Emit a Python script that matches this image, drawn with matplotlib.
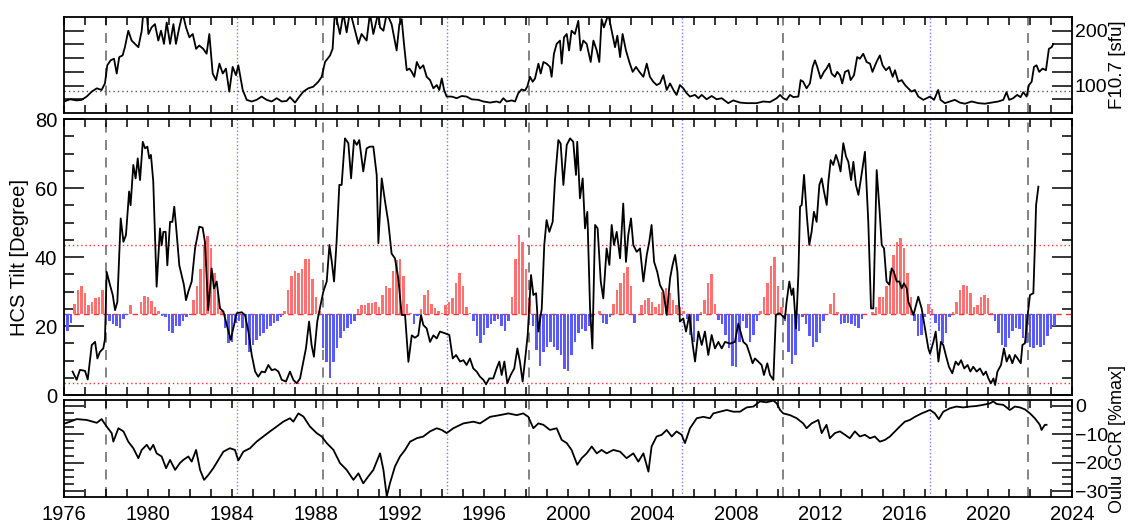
import numpy as np
import matplotlib
matplotlib.use("Agg")
import matplotlib.pyplot as plt
from matplotlib.ticker import MultipleLocator, FixedLocator, FuncFormatter

plt.rcParams['font.family'] = ['Liberation Sans', 'DejaVu Sans']
plt.rcParams['font.size'] = 14.5

# ---------------- data ----------------
f107_years = [1976.0, 1976.29, 1976.6, 1976.84, 1977.08, 1977.32, 1977.56, 1977.79, 1977.95, 1978.06,
              1978.22, 1978.38, 1978.51, 1978.63, 1978.79, 1978.9, 1979.06, 1979.22, 1979.38, 1979.54,
              1979.7, 1979.78, 1979.94, 1980.02, 1980.17, 1980.33, 1980.49, 1980.62, 1980.76, 1980.89,
              1981.05, 1981.21, 1981.33, 1981.49, 1981.65, 1981.81, 1981.97, 1982.13, 1982.29, 1982.44,
              1982.63, 1982.79, 1982.92, 1983.08, 1983.24, 1983.4, 1983.56, 1983.71, 1983.87, 1984.03,
              1984.19, 1984.3, 1984.51, 1984.7, 1984.94, 1985.17, 1985.41, 1985.65, 1985.89, 1986.13,
              1986.37, 1986.6, 1986.76, 1987.0, 1987.21, 1987.4, 1987.63, 1987.87, 1988.11, 1988.27,
              1988.43, 1988.67, 1988.79, 1988.9, 1989.14, 1989.3, 1989.46, 1989.62, 1989.86, 1990.02,
              1990.17, 1990.41, 1990.57, 1990.73, 1990.97, 1991.05, 1991.21, 1991.37, 1991.6, 1991.84,
              1991.97, 1992.08, 1992.19, 1992.32, 1992.45, 1992.56, 1992.68, 1992.8, 1992.95, 1993.11,
              1993.27, 1993.43, 1993.59, 1993.75, 1993.87, 1993.99, 1994.1, 1994.22, 1994.46, 1994.7,
              1994.94, 1995.17, 1995.41, 1995.73, 1995.97, 1996.29, 1996.6, 1996.76, 1996.92, 1997.08,
              1997.32, 1997.48, 1997.63, 1997.79, 1997.95, 1998.06, 1998.19, 1998.32, 1998.43, 1998.59,
              1998.7, 1998.83, 1998.98, 1999.14, 1999.22, 1999.33, 1999.46, 1999.62, 1999.7, 1999.81,
              1999.94, 2000.05, 2000.17, 2000.33, 2000.49, 2000.6, 2000.73, 2000.89, 2001.08, 2001.21,
              2001.37, 2001.49, 2001.6, 2001.71, 2001.92, 2002.08, 2002.24, 2002.35, 2002.48, 2002.6,
              2002.76, 2002.92, 2003.08, 2003.24, 2003.4, 2003.59, 2003.75, 2003.9, 2004.06, 2004.22,
              2004.38, 2004.54, 2004.7, 2004.86, 2005.02, 2005.17, 2005.33, 2005.49, 2005.65, 2005.81,
              2006.05, 2006.21, 2006.37, 2006.6, 2006.84, 2007.08, 2007.32, 2007.63, 2007.87, 2008.19,
              2008.51, 2008.98, 2009.3, 2009.62, 2009.94, 2010.1, 2010.25, 2010.41, 2010.57, 2010.73,
              2010.97, 2011.08, 2011.2, 2011.36, 2011.52, 2011.65, 2011.76, 2011.87, 2012.03, 2012.19,
              2012.31, 2012.44, 2012.55, 2012.71, 2012.82, 2012.95, 2013.06, 2013.19, 2013.35, 2013.46,
              2013.62, 2013.77, 2013.9, 2014.06, 2014.22, 2014.38, 2014.5, 2014.69, 2014.85, 2014.98,
              2015.14, 2015.3, 2015.46, 2015.57, 2015.73, 2015.89, 2016.05, 2016.2, 2016.36, 2016.52,
              2016.68, 2016.92, 2017.08, 2017.24, 2017.43, 2017.63, 2017.74, 2017.95, 2018.19, 2018.42,
              2018.66, 2018.9, 2019.22, 2019.54, 2019.85, 2020.17, 2020.49, 2020.73, 2020.88, 2021.01,
              2021.2, 2021.39, 2021.55, 2021.68, 2021.84, 2021.95, 2022.08, 2022.19, 2022.31, 2022.44,
              2022.6, 2022.76, 2022.9, 2023.03, 2023.11]
f107_vals = [71, 75, 73, 74, 80, 89, 95, 92, 104, 137,
             146, 149, 122, 152, 155, 170, 200, 182, 176, 170,
             200, 235, 232, 194, 206, 212, 182, 200, 176, 215,
             176, 212, 176, 206, 232, 206, 188, 194, 167, 173,
             167, 158, 194, 122, 110, 140, 122, 131, 89, 134,
             119, 137, 92, 74, 71, 74, 80, 74, 71, 77,
             71, 72, 79, 69, 80, 89, 95, 98, 107, 116,
             143, 155, 167, 235, 194, 232, 197, 236, 200, 176,
             194, 182, 232, 194, 234, 206, 200, 232, 212, 164,
             212, 221, 176, 128, 131, 125, 116, 143, 131, 137,
             116, 110, 95, 101, 92, 113, 92, 80, 80, 77,
             81, 80, 75, 74, 71, 69, 71, 69, 77, 71,
             73, 71, 86, 93, 91, 98, 116, 107, 113, 140,
             122, 143, 140, 134, 116, 158, 176, 182, 140, 188,
             194, 164, 200, 194, 218, 164, 182, 176, 143, 182,
             164, 143, 221, 206, 230, 200, 170, 191, 152, 194,
             164, 143, 125, 134, 125, 116, 140, 116, 107, 101,
             104, 119, 92, 104, 92, 83, 101, 95, 86, 80,
             83, 77, 83, 75, 81, 75, 77, 68, 73, 69,
             68, 68, 71, 70, 77, 83, 77, 74, 83, 79,
             80, 110, 107, 95, 104, 134, 146, 134, 113, 125,
             131, 140, 122, 116, 125, 119, 104, 125, 128, 110,
             119, 152, 149, 158, 143, 140, 125, 143, 155, 137,
             128, 134, 116, 128, 107, 110, 101, 95, 89, 92,
             80, 74, 77, 80, 74, 92, 74, 68, 71, 74,
             69, 67, 71, 68, 67, 69, 71, 74, 88, 74,
             77, 83, 79, 88, 80, 101, 107, 134, 137, 125,
             131, 128, 167, 170, 176]

tilt_years = [1976.41, 1976.6, 1976.76, 1977.0, 1977.13, 1977.32, 1977.48, 1977.59, 1977.71, 1977.87,
              1977.95, 1978.03, 1978.19, 1978.32, 1978.43, 1978.54, 1978.7, 1978.83, 1978.95, 1979.1,
              1979.17, 1979.3, 1979.41, 1979.51, 1979.62, 1979.75, 1979.86, 1979.97, 1980.06, 1980.14,
              1980.25, 1980.41, 1980.57, 1980.65, 1980.73, 1980.84, 1980.92, 1981.05, 1981.16, 1981.25,
              1981.33, 1981.49, 1981.6, 1981.71, 1981.81, 1981.92, 1982.08, 1982.24, 1982.44, 1982.6,
              1982.71, 1982.87, 1983.03, 1983.14, 1983.27, 1983.43, 1983.59, 1983.75, 1983.94, 1984.06,
              1984.22, 1984.46, 1984.62, 1984.78, 1984.94, 1985.1, 1985.25, 1985.41, 1985.57, 1985.73,
              1985.89, 1986.05, 1986.21, 1986.37, 1986.57, 1986.76, 1986.92, 1987.08, 1987.24, 1987.4,
              1987.52, 1987.67, 1987.79, 1987.9, 1988.06, 1988.22, 1988.35, 1988.51, 1988.64, 1988.75,
              1988.86, 1988.98, 1989.11, 1989.22, 1989.38, 1989.54, 1989.67, 1989.81, 1989.94, 1990.06,
              1990.25, 1990.41, 1990.57, 1990.73, 1990.89, 1990.97, 1991.13, 1991.29, 1991.44, 1991.6,
              1991.76, 1991.92, 1992.08, 1992.24, 1992.4, 1992.56, 1992.71, 1992.87, 1993.0, 1993.11,
              1993.27, 1993.43, 1993.59, 1993.75, 1993.9, 1994.14, 1994.35, 1994.51, 1994.67, 1994.86,
              1995.02, 1995.17, 1995.33, 1995.49, 1995.65, 1995.81, 1995.97, 1996.1, 1996.25, 1996.44,
              1996.6, 1996.73, 1996.84, 1996.97, 1997.11, 1997.27, 1997.44, 1997.59, 1997.71, 1997.84,
              1997.98, 1998.08, 1998.24, 1998.35, 1998.48, 1998.59, 1998.75, 1998.87, 1998.98, 1999.11,
              1999.27, 1999.38, 1999.54, 1999.65, 1999.78, 1999.94, 2000.1, 2000.25, 2000.38, 2000.44,
              2000.57, 2000.7, 2000.81, 2000.92, 2001.05, 2001.16, 2001.29, 2001.41, 2001.56, 2001.68,
              2001.84, 2001.97, 2002.08, 2002.19, 2002.32, 2002.48, 2002.63, 2002.76, 2002.87, 2003.0,
              2003.11, 2003.27, 2003.43, 2003.59, 2003.75, 2003.87, 2003.98, 2004.1, 2004.25, 2004.38,
              2004.54, 2004.7, 2004.86, 2004.98, 2005.1, 2005.21, 2005.33, 2005.49, 2005.62, 2005.78,
              2005.94, 2006.05, 2006.21, 2006.37, 2006.52, 2006.68, 2006.84, 2007.0, 2007.16, 2007.32,
              2007.48, 2007.71, 2007.95, 2008.11, 2008.35, 2008.51, 2008.67, 2008.79, 2008.9, 2009.06,
              2009.22, 2009.33, 2009.49, 2009.62, 2009.78, 2009.9, 2010.06, 2010.17, 2010.33, 2010.41,
              2010.54, 2010.65, 2010.73, 2010.86, 2010.97, 2011.05, 2011.13, 2011.24, 2011.37, 2011.49,
              2011.6, 2011.71, 2011.84, 2011.97, 2012.08, 2012.19, 2012.32, 2012.4, 2012.51, 2012.63,
              2012.76, 2012.87, 2012.98, 2013.11, 2013.24, 2013.35, 2013.48, 2013.59, 2013.71, 2013.83,
              2013.94, 2014.14, 2014.3, 2014.43, 2014.54, 2014.7, 2014.83, 2014.94, 2015.05, 2015.17,
              2015.3, 2015.41, 2015.52, 2015.65, 2015.78, 2015.89, 2016.0, 2016.13, 2016.21, 2016.45,
              2016.68, 2016.84, 2017.0, 2017.16, 2017.24, 2017.4, 2017.51, 2017.64, 2017.76, 2017.87,
              2017.99, 2018.14, 2018.3, 2018.46, 2018.59, 2018.72, 2018.87, 2019.03, 2019.16, 2019.3,
              2019.46, 2019.62, 2019.78, 2019.9, 2020.02, 2020.14, 2020.26, 2020.34, 2020.45, 2020.62,
              2020.76, 2020.89, 2021.02, 2021.16, 2021.29, 2021.41, 2021.56, 2021.64, 2021.76, 2021.89,
              2022.0, 2022.16, 2022.24, 2022.29, 2022.4]
tilt_vals = [6.8, 4.4, 7.3, 7.0, 4.5, 14.5, 15.4, 10.6, 12.5, 13.5,
             16.2, 35.7, 31.9, 29.0, 24.6, 27.0, 51.2, 44.4, 46.4, 59.0,
             55.0, 66.7, 62.8, 68.6, 62.3, 73.4, 71.5, 72.0, 68.6, 69.6,
             61.9, 31.4, 48.3, 43.4, 47.3, 47.3, 37.6, 50.2, 50.2, 54.6,
             49.3, 37.6, 34.8, 31.9, 27.5, 30.0, 32.9, 42.5, 48.8, 48.5,
             44.4, 24.6, 36.7, 30.9, 32.9, 25.1, 24.2, 20.3, 16.0, 19.3,
             23.7, 24.0, 23.2, 18.4, 11.6, 6.8, 5.3, 6.8, 6.6, 8.7,
             7.2, 7.5, 6.8, 4.4, 3.9, 6.8, 4.4, 3.4, 4.8, 9.7,
             13.5, 21.3, 14.5, 11.1, 21.3, 26.2, 30.0, 32.9, 43.5, 38.7,
             32.9, 44.4, 60.9, 60.9, 74.4, 73.0, 62.8, 73.9, 72.5, 73.9,
             64.8, 71.5, 72.0, 72.0, 63.8, 44.0, 62.8, 56.0, 50.2, 41.0,
             39.6, 33.8, 23.2, 23.2, 9.6, 17.3, 16.6, 17.3, 23.2, 20.3,
             19.3, 15.4, 17.3, 16.4, 18.4, 17.9, 17.4, 10.6, 11.6, 9.7,
             10.1, 8.7, 10.6, 7.7, 6.8, 5.3, 4.4, 3.1, 4.8, 4.8,
             7.7, 9.7, 5.8, 9.7, 3.4, 5.8, 7.7, 13.5, 9.7, 3.9,
             11.6, 17.4, 34.8, 29.0, 29.5, 18.4, 25.1, 43.5, 50.7, 47.3,
             50.2, 62.3, 73.9, 72.9, 60.9, 72.5, 74.4, 73.4, 63.8, 73.4,
             57.0, 62.8, 48.3, 53.1, 25.1, 13.5, 49.3, 48.3, 32.9, 28.0,
             42.5, 37.7, 49.3, 43.5, 47.3, 39.6, 55.5, 38.6, 46.4, 51.2,
             43.5, 41.5, 42.5, 32.9, 40.6, 44.4, 49.3, 38.6, 35.7, 31.9,
             30.0, 23.2, 33.8, 37.7, 40.6, 35.7, 21.3, 22.2, 18.4, 23.2,
             14.5, 9.7, 18.4, 14.5, 18.4, 11.6, 17.4, 13.5, 15.4, 13.5,
             15.4, 14.9, 15.4, 20.7, 15.4, 14.5, 11.6, 9.2, 10.6, 9.7,
             8.7, 5.8, 9.2, 5.8, 4.4, 23.2, 23.7, 23.2, 22.2, 27.0,
             32.9, 29.0, 30.9, 19.3, 34.8, 54.6, 55.1, 63.8, 52.2, 43.5,
             47.3, 53.1, 50.2, 60.9, 62.8, 59.0, 55.1, 61.9, 68.1, 66.7,
             69.6, 67.6, 64.8, 73.0, 69.1, 67.6, 62.3, 67.6, 60.9, 58.0,
             62.3, 70.5, 50.2, 25.1, 25.1, 65.2, 54.1, 43.5, 42.5, 32.9,
             32.0, 36.7, 35.7, 32.9, 32.9, 30.9, 32.4, 30.9, 27.0, 23.2,
             28.5, 25.1, 19.3, 13.5, 12.0, 15.4, 18.4, 9.7, 15.4, 14.5,
             11.6, 8.2, 6.3, 9.7, 8.7, 10.1, 7.7, 8.7, 6.8, 8.2,
             6.8, 7.7, 5.8, 6.8, 4.8, 3.4, 4.8, 2.9, 6.8, 8.7,
             13.5, 9.7, 11.6, 9.2, 11.6, 10.6, 9.2, 14.5, 15.0, 23.2,
             29.0, 29.5, 44.4, 55.0, 60.4]

# bimonthly deviation of the bar index from the baseline (positive red, negative blue)
bar_start = 1976.0
bar_dev = [
    -15, -5, -2.5, 3, 7, 8,            # 1976
    6, 2.5, 3.5, 4.5, 5, 7,            # 1977
    8, -2, -3, -3.5, -4, -1.5,         # 1978
    -0.3, 2.5, 0, 0, 3.5, 5.3,         # 1979
    5, 3.8, 2, 0.8, -0.5, -0.8,        # 1980
    -5, -5.5, -3.5, -3.5, -2, -0.8,    # 1981
    -0.3, 4, 8, 13, 20, 22.5,          # 1982
    19, 12, 6, 1, -4, -8.5,            # 1983
    -8, -2.5, -2, -4, -9, -11,         # 1984
    -9, -7.5, -6.5, -5.5, -4.5, -3.5,  # 1985
    -2.5, -2, -1, 1, 7, 11,            # 1986
    12.5, 12, 13, 16, 16, 10,          # 1987
    5, 0.8, -10, -14, -18.5, -14,      # 1988
    -10, -7, -5, -4, -3, -2,           # 1989
    1.5, 2.5, 2.5, 3.2, 3.2, 3.5,      # 1990
    2, 5.5, 8, 7.5, 12.5, 15.5,        # 1991
    16, 11, 3, 0.3, -3, -0.5,          # 1992
    1.5, 5.5, 7, 3, 1.7, 0.8,          # 1993
    0.3, 2.7, 3.6, 4.5, 9, 12,         # 1994
    8, 2, 0.3, -2, -6.5, -8.5,         # 1995
    -6, -4, -3, -2, -1.5, -3.5,        # 1996
    -5, -2, 5, 16, 23, 21,             # 1997
    13, 4, -3.5, -10.5, -15, -11,      # 1998
    -9.5, -8, -9.5, -10.5, -12, -16,   # 1999
    -16.5, -12, -8, -5.5, -4.5, -5,    # 2000
    -3.5, -1, 0, 0.8, -2.5, -2.8,      # 2001
    -1, 3, 7, 9, 12, 13.5,             # 2002
    8, -2.5, 0, 2.7, 4, 4.5,           # 2003
    3.5, 2, 3, 6.5, 7.5, 6,            # 2004
    4, 2.7, 2, 1, -1.5, -6,            # 2005
    -8, -2, 0.5, 4, 9, 11.5,           # 2006
    3, -1.8, -3, -6, -10, -15,         # 2007
    -15.5, -8, -2, -4, -8, -6,         # 2008
    -2, 0.8, 5, 9, 14, 16.5,           # 2009
    8, 2, -2, -11, -14.5, -12,         # 2010
    -5, -1, -3, -6.5, -9.5, -8,        # 2011
    -5.5, -2, 0, 3, 6, 0.5,            # 2012
    -2.8, -2.5, -2.5, -3, -3.5, -4,    # 2013
    -1.5, 0, 0, 0.5, 2, 5,             # 2014
    5, 8, 12.5, 17, 21, 22,            # 2015
    19, 12, 5, -2, -6.5, -6,           # 2016
    -1, 3, 1.5, -2.5, -5, -8.5,        # 2017
    -5.5, -1, 0.5, 3.5, 7, 8.4,        # 2018
    8, 6, 2, 2.5, 5, 5.5,              # 2019
    4.5, 0.3, -2, -5.5, -9, -9.5,      # 2020
    -7, -5, -4, -4.5, -7, -8.5,        # 2021
    -9.5, -10, -9, -9.5, -9, -6.5,     # 2022
    -4.5, -3.5,                        # 2023
]
tilt_baseline = 23.5
tilt_band = 20.0

gcr_years = [1976.05, 1976.29, 1976.6, 1977.08, 1977.56, 1977.79, 1978.03, 1978.27, 1978.35, 1978.59,
             1978.83, 1979.06, 1979.3, 1979.54, 1979.7, 1979.94, 1980.1, 1980.25, 1980.41, 1980.65,
             1980.86, 1981.05, 1981.29, 1981.52, 1981.68, 1981.92, 1982.08, 1982.29, 1982.48, 1982.67,
             1982.87, 1983.11, 1983.35, 1983.59, 1983.9, 1984.14, 1984.3, 1984.54, 1984.86, 1985.17,
             1985.49, 1985.81, 1986.13, 1986.44, 1986.76, 1986.92, 1987.16, 1987.4, 1987.71, 1988.03,
             1988.27, 1988.51, 1988.83, 1989.14, 1989.46, 1989.78, 1990.02, 1990.25, 1990.49, 1990.73,
             1991.05, 1991.21, 1991.37, 1991.52, 1991.76, 1992.0, 1992.24, 1992.48, 1992.8, 1993.11,
             1993.43, 1993.75, 1993.99, 1994.22, 1994.54, 1995.02, 1995.49, 1995.81, 1996.29, 1996.76,
             1997.16, 1997.56, 1997.87, 1998.11, 1998.35, 1998.59, 1998.83, 1999.14, 1999.46, 1999.7,
             1999.94, 2000.17, 2000.44, 2000.65, 2000.89, 2001.13, 2001.37, 2001.6, 2001.84, 2002.16,
             2002.48, 2002.79, 2003.11, 2003.35, 2003.59, 2003.83, 2003.98, 2004.22, 2004.46, 2004.7,
             2004.94, 2005.17, 2005.41, 2005.57, 2005.81, 2006.13, 2006.44, 2006.76, 2006.92, 2007.24,
             2007.56, 2007.87, 2008.19, 2008.51, 2008.83, 2009.14, 2009.46, 2009.78, 2009.94, 2010.1,
             2010.25, 2010.57, 2010.89, 2011.2, 2011.36, 2011.6, 2011.92, 2012.08, 2012.31, 2012.47,
             2012.71, 2012.95, 2013.19, 2013.42, 2013.66, 2013.9, 2014.14, 2014.38, 2014.61, 2014.85,
             2015.09, 2015.33, 2015.57, 2015.8, 2016.04, 2016.28, 2016.52, 2016.84, 2017.24, 2017.47,
             2017.66, 2017.87, 2018.19, 2018.5, 2018.82, 2019.14, 2019.46, 2019.77, 2020.09, 2020.25,
             2020.41, 2020.73, 2021.04, 2021.28, 2021.52, 2021.76, 2022.0, 2022.23, 2022.47, 2022.55,
             2022.71, 2022.79]
gcr_vals = [-6.2, -5.6, -4.7, -5.0, -6.0, -4.7, -7.3, -9.6, -12.6, -7.9,
            -9.0, -12.6, -14.9, -18.4, -15.5, -13.7, -15.5, -13.7, -16.7, -17.8,
            -21.9, -19.0, -22.5, -20.1, -19.0, -17.8, -19.6, -15.5, -22.5, -26.0,
            -24.3, -21.9, -19.0, -16.1, -14.9, -15.5, -19.2, -16.1, -14.9, -12.6,
            -10.8, -9.0, -7.3, -5.6, -4.4, -5.6, -2.7, -3.8, -7.3, -9.6,
            -10.8, -13.1, -15.5, -20.1, -22.5, -26.0, -23.7, -27.2, -24.8, -22.5,
            -16.7, -22.5, -31.8, -27.2, -21.3, -17.8, -15.5, -12.6, -11.4, -10.8,
            -9.0, -7.9, -8.5, -9.6, -7.9, -6.2, -5.6, -6.2, -3.9, -3.3,
            -2.7, -3.3, -2.7, -3.9, -7.9, -6.2, -6.7, -8.5, -7.9, -12.0,
            -13.1, -15.5, -20.7, -18.4, -16.7, -14.3, -16.7, -15.5, -16.7, -15.5,
            -16.1, -18.4, -16.7, -19.6, -16.7, -23.1, -14.3, -10.8, -10.2, -8.5,
            -10.8, -9.0, -10.2, -13.1, -7.9, -4.4, -3.9, -4.4, -2.7, -2.1,
            -1.5, -2.1, -2.1, -0.6, -0.3, 1.5, 1.2, 1.8, 0.8, -1.5,
            -2.7, -3.3, -4.4, -6.2, -7.9, -6.2, -5.0, -9.6, -6.7, -11.4,
            -9.6, -9.0, -10.2, -11.4, -9.0, -10.8, -10.2, -11.4, -10.8, -12.6,
            -12.0, -10.8, -9.0, -7.3, -5.6, -5.0, -3.9, -2.7, -1.5, -2.7,
            -4.7, -2.1, -0.9, -0.3, -0.6, -0.3, -0.1, 0.3, 0.8, 1.5,
            0.6, 0.3, -1.5, -0.3, -0.6, -1.3, -2.7, -4.4, -6.7, -8.5,
            -6.7, -6.7]

reversal_years = [1978.0, 1988.35, 1998.12, 2010.25, 2021.9]
minimum_years = [1984.22, 1994.25, 2005.41, 2017.24]
f107_ref = 90

# ---------------- figure ----------------
fig = plt.figure(figsize=(11.29, 5.23), dpi=100)
L, W = 0.0567, 0.8928
ax1 = fig.add_axes([L, 0.7839, W, 0.1836])
ax2 = fig.add_axes([L, 0.2447, W, 0.5277])
ax3 = fig.add_axes([L, 0.0497, W, 0.1855])

for ax in (ax1, ax2, ax3):
    ax.set_xlim(1976, 2024)
    for s in ax.spines.values():
        s.set_linewidth(1.3)
    ax.xaxis.set_major_locator(MultipleLocator(4))
    ax.xaxis.set_minor_locator(MultipleLocator(1))
    ax.tick_params(axis='x', which='both', direction='in', top=True, bottom=True,
                   length=5.5, width=1.1, labelbottom=False)
    ax.tick_params(axis='y', which='both', direction='in', left=True, right=True, width=1.1)
    for yr in reversal_years:
        ax.axvline(yr, color='#6e6e6e', lw=1.2, dashes=(6, 4.5), zorder=1)
    for yr in minimum_years:
        ax.axvline(yr, color='#7a7aff', lw=1.0, dashes=(1, 1.6), zorder=1)

right_label_size = 13.5

# top panel: F10.7
ax1.plot(f107_years, f107_vals, color='black', lw=1.3, zorder=3)
ax1.axhline(f107_ref, color='#555555', lw=1.0, dashes=(1, 2.2), zorder=2)
ax1.set_ylim(50, 225)
ax1.yaxis.set_major_locator(FixedLocator([75, 100, 125, 150, 175, 200]))
ax1.yaxis.set_major_formatter(FuncFormatter(lambda v, p: f"{v:.0f}" if v in (100, 200) else ""))
ax1.tick_params(axis='y', which='major', length=14.5, labelleft=False, labelright=True, pad=2,
                labelsize=14)
ax1.yaxis.set_label_position('right')
ax1.set_ylabel('F10.7 [sfu]', labelpad=1, fontsize=right_label_size)

# middle panel: HCS tilt
bar_years = bar_start + np.arange(len(bar_dev)) / 6.0
dev = np.array(bar_dev)
pos = np.where(dev > 0, dev, 0)
neg = np.where(dev < 0, dev, 0)
ax2.bar(bar_years, pos, bottom=tilt_baseline, width=0.135, color='#ff7070', lw=0, zorder=2)
ax2.bar(bar_years, neg, bottom=tilt_baseline, width=0.135, color='#5a5aff', lw=0, zorder=2)
ax2.axhline(tilt_baseline, color='#ff3030', lw=1.0, dashes=(4, 3), zorder=1.5)
ax2.axhline(tilt_baseline + tilt_band, color='#ff3030', lw=1.0, dashes=(1, 2), zorder=1.5)
ax2.axhline(tilt_baseline - tilt_band, color='#ff3030', lw=1.0, dashes=(1, 2), zorder=1.5)
ax2.plot(tilt_years, tilt_vals, color='black', lw=1.3, zorder=4)
ax2.set_ylim(0, 80)
ax2.yaxis.set_major_locator(MultipleLocator(20))
ax2.yaxis.set_minor_locator(MultipleLocator(5))
ax2.tick_params(axis='y', which='major', length=14.5, pad=5)
ax2.tick_params(axis='y', which='minor', length=7.2)
ax2.set_ylabel('HCS Tilt [Degree]', labelpad=4)

# bottom panel: Oulu GCR
ax3.plot(gcr_years, gcr_vals, color='black', lw=1.3, zorder=3)
ax3.set_ylim(-32, 2)
ax3.yaxis.set_major_locator(MultipleLocator(10))
ax3.yaxis.set_minor_locator(MultipleLocator(2.5))
ax3.tick_params(axis='y', which='major', length=14.5, labelleft=False, labelright=True, pad=2,
                labelsize=14)
ax3.tick_params(axis='y', which='minor', length=7.2)
ax3.yaxis.set_label_position('right')
ax3.set_ylabel('Oulu GCR [%max]', labelpad=1, fontsize=13)
ax3.yaxis.label.set_y(0.6)
ax3.xaxis.set_major_formatter(FuncFormatter(lambda v, p: f"{v:.0f}"))
ax3.tick_params(axis='x', which='major', labelbottom=True, pad=6)

fig.savefig('out.png', dpi=100)
